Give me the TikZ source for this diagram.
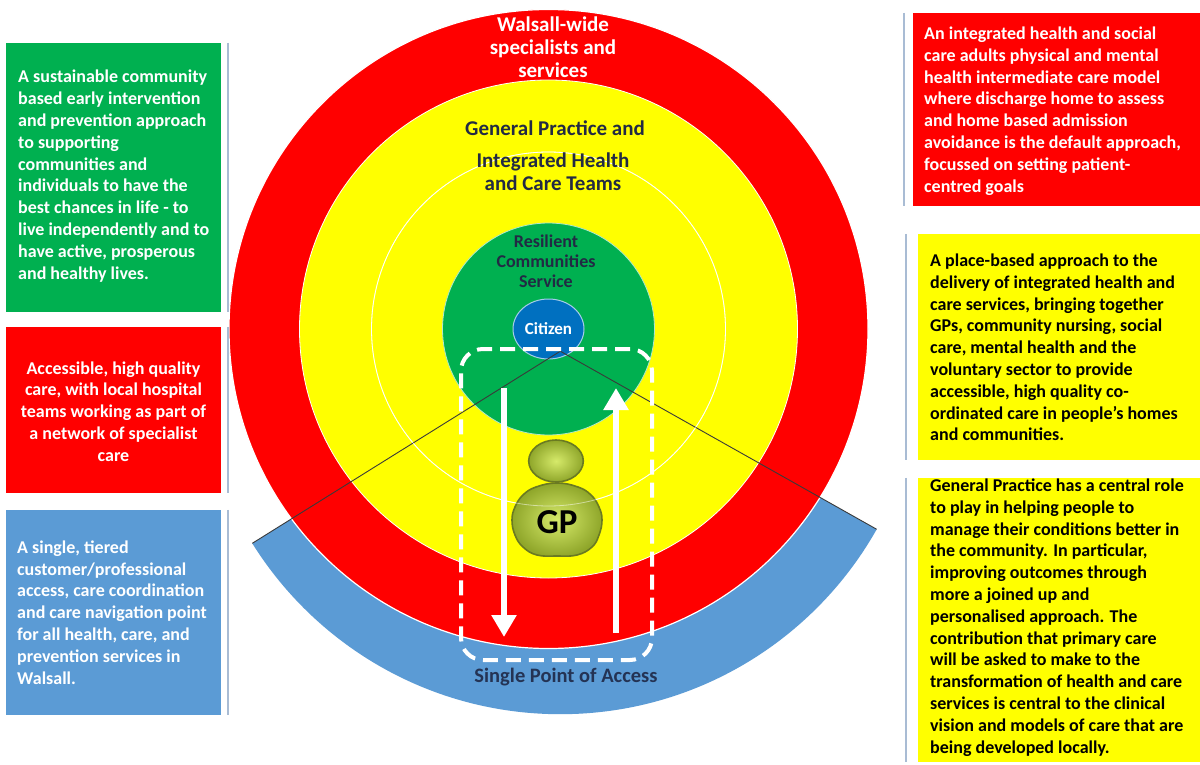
\documentclass[tikz,border=0pt]{standalone}
\usepackage{fontspec}
\setmainfont{Carlito}
\usetikzlibrary{arrows.meta,shapes.geometric}
\definecolor{cRed}{HTML}{FF0000}
\definecolor{cYel}{HTML}{FFFF00}
\definecolor{cGrn}{HTML}{00B050}
\definecolor{cCit}{HTML}{0070C0}
\definecolor{cBand}{HTML}{5B9BD5}
\definecolor{cSep}{HTML}{A9BCD4}
\definecolor{cNavy}{HTML}{222A44}
\definecolor{cSpa}{HTML}{243354}
\definecolor{cDark}{HTML}{3A3A3A}
\definecolor{cOliveIn}{HTML}{D6EA6A}
\definecolor{cOliveOut}{HTML}{8FA62A}
\definecolor{cOliveLine}{HTML}{6A7A22}
\newcommand\bxfont{\fontsize{18}{21.8}\selectfont\bfseries}
\newcommand\ringfont{\fontsize{21}{23}\selectfont\bfseries}
\newcommand\rcfont{\fontsize{18}{20}\selectfont\bfseries}
\newcommand\citfont{\fontsize{17}{19}\selectfont\bfseries}
\newcommand\gpfont{\fontsize{35}{38}\selectfont\bfseries}
\newcommand\spafont{\fontsize{20.5}{23}\selectfont\bfseries}
\tikzset{
  panel/.style={inner sep=0pt, draw=none},
  sepline/.style={cSep, line width=2pt},
  wtxt/.style={font=\bxfont, text=white, align=left, anchor=west, inner sep=0pt},
  ktxt/.style={font=\bxfont, text=black, align=left, anchor=west, inner sep=0pt},
  flow/.style={white, line width=6pt, -{Triangle[width=24pt,length=22pt]}},
  radial/.style={cDark, line width=0.9pt},
  olive/.style={inner color=cOliveIn, outer color=cOliveOut, draw=cOliveLine, line width=1.6pt}
}
\begin{document}
\begin{tikzpicture}[x=1pt,y=-1pt]
\useasboundingbox (0,0) rectangle (1200,765);
\fill[white] (0,0) rectangle (1200,765);

\coordinate (O) at (548.5,329);
\coordinate (C2) at (560.3,351.2);
\coordinate (P1) at (252.3,543.3);
\coordinate (P3) at (876.7,529.3);

% blue band (single point of access)
\begin{scope}
\clip (C2) -- (-55.7,735.4) -- (-55.7,1000) -- (1193.1,1000) -- (1193.1,707.4) -- cycle;
\fill[cBand] (C2) circle[radius=363pt];
\end{scope}

% rings
\filldraw[fill=cRed, draw=white, line width=1.2pt] (O) circle[radius=319.5pt];
\filldraw[fill=cYel, draw=white, line width=0.8pt] (O) circle[radius=249pt];
\draw[white, line width=0.8pt] (O) circle[radius=177pt];
\filldraw[fill=cGrn, draw=white!70!cGrn, line width=0.8pt] (O) circle[radius=106pt];
\node[ellipse, fill=cCit, draw=white!65!cCit, line width=1pt, minimum width=71pt, minimum height=60pt, inner sep=0pt, text=white, font=\citfont] (cit) at (O) {Citizen};

% radial lines
\draw[radial] (C2) -- (P1);
\draw[radial] (C2) -- (P3);

% GP icon
\path[olive] plot[smooth cycle, tension=0.7] coordinates {(557,483) (578,487) (591,495) (599,507) (602,520) (599,535) (592,547) (577,555) (557,556) (537,555) (523,547) (515,535) (512,520) (515,507) (523,495) (536,487)};
\path[olive] (556,461) ellipse [x radius=27.3pt, y radius=21pt];
\draw[white, opacity=0.5, line width=0.8pt] (O) circle[radius=177pt];
\node[font=\gpfont, text=black, inner sep=0pt] (gp) at (557,522) {GP};

% arrows
\coordinate (dTop) at (504,388);
\coordinate (dBot) at (504,637);
\coordinate (uBot) at (616,633);
\coordinate (uTop) at (616,388);
\draw[flow] (dTop) -- (dBot);
\draw[flow] (uBot) -- (uTop);

% dashed loop
\node[draw=white, line width=4pt, dash pattern=on 15pt off 8pt, rounded corners=22pt, minimum width=191pt, minimum height=311pt, inner sep=0pt] (loop) at (556.5,504.5) {};

% ring labels
\node[font=\ringfont, text=white, align=center, inner sep=0pt] (wal) at (553,47) {Walsall-wide\\specialists and\\services};
\node[font=\ringfont, text=cNavy, inner sep=0pt] (gpr) at (555,128) {General Practice and};
\node[font=\ringfont, text=cNavy, align=center, inner sep=0pt] (iht) at (553,172) {Integrated Health\\and Care Teams};
\node[font=\rcfont, text=cNavy, align=center, inner sep=0pt] (rcs) at (546,261) {Resilient\\Communities\\Service};
\node[font=\spafont, text=cSpa, inner sep=0pt] (spa) at (566,677) {Single Point of Access};

% left panels
\node[panel, fill=cGrn, minimum width=215pt, minimum height=269pt] (pG) at (113.5,177.5) {};
\node[panel, fill=cRed, minimum width=215pt, minimum height=166pt] (pR) at (113.5,410) {};
\node[panel, fill=cBand, minimum width=215pt, minimum height=205pt] (pB) at (113.5,612.5) {};
\draw[sepline] ([xshift=6.5pt]pG.north east) -- ([xshift=6.5pt]pG.south east);
\draw[sepline] ([xshift=6.5pt]pR.north east) -- ([xshift=6.5pt]pR.south east);
\draw[sepline] ([xshift=6.5pt]pB.north east) -- ([xshift=6.5pt]pB.south east);

% right panels
\node[panel, fill=cRed, minimum width=287pt, minimum height=193pt] (pRR) at (1056.5,109.5) {};
\node[panel, fill=cYel, minimum width=282pt, minimum height=226pt] (pY1) at (1059,347) {};
\node[panel, fill=cYel, minimum width=282pt, minimum height=284pt] (pY2) at (1059,620) {};
\draw[sepline] ([xshift=-8.5pt]pRR.north west) -- ([xshift=-8.5pt]pRR.south west);
\draw[sepline] ([xshift=-12pt]pY1.north west) -- ([xshift=-12pt]pY1.south west);
\draw[sepline] ([xshift=-12pt]pY2.north west) -- ([xshift=-12pt]pY2.south west);

% panel texts
\node[wtxt] (tG) at (18,176) {A sustainable community\\based  early intervention\\and prevention approach\\to supporting\\communities and\\individuals to have the\\best chances in life -  to\\live independently and to\\have active, prosperous\\and healthy lives.};
\node[wtxt, align=center, anchor=center] (tR) at (113.5,411.5) {Accessible, high quality\\care, with local hospital\\teams working as part of\\a network of specialist\\care};
\node[wtxt] (tB) at (17,612.5) {A single, tiered\\customer/professional\\access, care coordination\\and care navigation point\\for all health, care, and\\prevention services in\\Walsall.};
\node[wtxt] (tRR) at (924,111) {An integrated health and social\\care adults physical and mental\\health intermediate care model\\where discharge home to assess\\and home based admission\\avoidance is the default approach,\\focussed on setting patient-\\centred goals};
\node[ktxt] (tY1) at (930,347.5) {A place-based approach to the\\delivery of integrated health and\\care services, bringing together\\GPs, community nursing, social\\care, mental health and the\\voluntary sector to provide\\accessible, high quality co-\\ordinated care in people’s homes\\and communities.};
\node[ktxt] (tY2) at (930,617.5) {General Practice has a central role\\to play in helping people to\\manage their conditions better in\\the community.  In particular,\\improving outcomes through\\more a joined up and\\personalised approach. The\\contribution that primary care\\will be asked to make to the\\transformation of health and care\\services is central to the clinical\\vision and models of care that are\\being developed locally.};
\end{tikzpicture}
\end{document}
